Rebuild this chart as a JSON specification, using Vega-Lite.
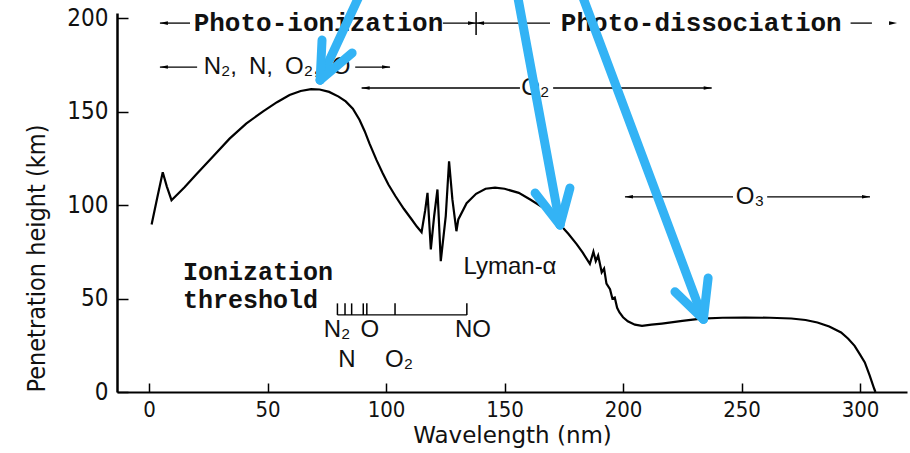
{
  "$schema": "https://vega.github.io/schema/vega-lite/v6.json",
  "width": 790,
  "height": 379,
  "autosize": "none",
  "padding": {"left": 117, "top": 13, "right": 3, "bottom": 61},
  "background": "white",
  "config": {
    "view": {"stroke": null},
    "axis": {"grid": false, "domainColor": "#000", "tickColor": "#000", "labelColor": "#111", "titleColor": "#111",
      "labelFont": "Liberation Sans Narrow, DejaVu Sans Condensed, sans-serif", "labelFontSize": 24,
      "titleFont": "DejaVu Sans, Liberation Sans, sans-serif", "titleFontWeight": "normal", "tickWidth": 1.5},
    "axisX": {"domainWidth": 2, "tickSize": -9, "labelPadding": 16, "labelFontSize": 22, "titleFontSize": 23, "titlePadding": 4, "tickCount": 7},
    "axisY": {"domainWidth": 2.5, "tickSize": -11, "labelPadding": 20, "titleFont": "DejaVu Sans Condensed, Liberation Sans Narrow, sans-serif", "titleFontSize": 25, "titlePadding": 17, "titleAnchor": "start", "tickCount": 5}
  },
  "datasets": {
    "curve": [
      {"wl": 1.1, "h": 89.6}, {"wl": 3.5, "h": 104}, {"wl": 5.8, "h": 117.5}, {"wl": 7.5, "h": 110}, {"wl": 9.5, "h": 102.6},
      {"wl": 15, "h": 109.5}, {"wl": 20, "h": 116.5}, {"wl": 27, "h": 126}, {"wl": 34, "h": 135.5}, {"wl": 41, "h": 143.5},
      {"wl": 48, "h": 150}, {"wl": 54, "h": 155}, {"wl": 59.3, "h": 158.8}, {"wl": 64, "h": 161}, {"wl": 68.4, "h": 162},
      {"wl": 72, "h": 161.8}, {"wl": 76, "h": 160.5}, {"wl": 80, "h": 158}, {"wl": 83, "h": 155.4}, {"wl": 86, "h": 151.5},
      {"wl": 88.8, "h": 145.6}, {"wl": 91, "h": 139.5}, {"wl": 93, "h": 133}, {"wl": 96, "h": 124}, {"wl": 98.6, "h": 117},
      {"wl": 101, "h": 111}, {"wl": 104, "h": 104.7}, {"wl": 107.5, "h": 98}, {"wl": 111, "h": 92}, {"wl": 113, "h": 88.5},
      {"wl": 115, "h": 85.5}, {"wl": 116.5, "h": 97}, {"wl": 117.5, "h": 106.5}, {"wl": 118.9, "h": 76.3}, {"wl": 120.3, "h": 94},
      {"wl": 121.7, "h": 108.3}, {"wl": 123.1, "h": 70}, {"wl": 125.2, "h": 94}, {"wl": 126.6, "h": 123.4}, {"wl": 128, "h": 103},
      {"wl": 129.7, "h": 86}, {"wl": 130.5, "h": 92.3}, {"wl": 134, "h": 101}, {"wl": 138, "h": 106}, {"wl": 142, "h": 108.7},
      {"wl": 146, "h": 109.3}, {"wl": 150, "h": 108.7}, {"wl": 156, "h": 106.5}, {"wl": 161, "h": 102.8}, {"wl": 166.4, "h": 98.5},
      {"wl": 170, "h": 94}, {"wl": 173.4, "h": 89.6}, {"wl": 177, "h": 84.5}, {"wl": 180.5, "h": 79}, {"wl": 183, "h": 74.5},
      {"wl": 186, "h": 68.5}, {"wl": 187.5, "h": 75}, {"wl": 188.5, "h": 70}, {"wl": 189.5, "h": 73}, {"wl": 191, "h": 64},
      {"wl": 192, "h": 66}, {"wl": 193, "h": 58}, {"wl": 194.5, "h": 55}, {"wl": 195.5, "h": 50}, {"wl": 196.5, "h": 50.5},
      {"wl": 197.5, "h": 45}, {"wl": 198.5, "h": 42.5}, {"wl": 200, "h": 40}, {"wl": 202, "h": 37.8}, {"wl": 205, "h": 36},
      {"wl": 208, "h": 35.4}, {"wl": 212, "h": 36}, {"wl": 216.4, "h": 36.6}, {"wl": 225, "h": 38}, {"wl": 233, "h": 39.2},
      {"wl": 242, "h": 39.7}, {"wl": 251.5, "h": 39.8}, {"wl": 262, "h": 39.7}, {"wl": 271, "h": 39.3}, {"wl": 277, "h": 38.5},
      {"wl": 282, "h": 37.2}, {"wl": 287, "h": 35}, {"wl": 292, "h": 31.8}, {"wl": 295, "h": 28.5}, {"wl": 297.7, "h": 24.7},
      {"wl": 300, "h": 20}, {"wl": 302, "h": 15.8}, {"wl": 304, "h": 9}, {"wl": 306, "h": 1.6}, {"wl": 306.5, "h": 0}
    ],
    "segments": [
      {"x1": 4.6, "x2": 17.3, "y": 197.3},
      {"x1": 124, "x2": 169.2, "y": 197.3},
      {"x1": 296, "x2": 305, "y": 197.3},
      {"x1": 4.6, "x2": 20.3, "y": 173.8},
      {"x1": 87, "x2": 101.7, "y": 173.8},
      {"x1": 89.7, "x2": 156.5, "y": 162.6},
      {"x1": 170.5, "x2": 237.4, "y": 162.6},
      {"x1": 200.8, "x2": 246.4, "y": 104.4},
      {"x1": 260.8, "x2": 304.2, "y": 104.4},
      {"x1": 79.5, "x2": 134.1, "y": 41.2}
    ],
    "vsegments": [
      {"x": 138, "y1": 190.9, "y2": 203.2},
      {"x": 79.5, "y1": 41.2, "y2": 47.4},
      {"x": 82.7, "y1": 41.2, "y2": 47.4},
      {"x": 85.5, "y1": 41.2, "y2": 47.4},
      {"x": 90.4, "y1": 41.2, "y2": 47.4},
      {"x": 91.9, "y1": 41.2, "y2": 47.4},
      {"x": 103.8, "y1": 41.2, "y2": 47.4},
      {"x": 134.1, "y1": 41.2, "y2": 47.4}
    ],
    "heads": [
      {"x": 4.6, "y": 197.3, "dir": "left"},
      {"x": 138, "y": 197.3, "dir": "right"},
      {"x": 138, "y": 197.3, "dir": "left"},
      {"x": 315.6, "y": 197.3, "dir": "right"},
      {"x": 4.6, "y": 173.8, "dir": "left"},
      {"x": 101.7, "y": 173.8, "dir": "right"},
      {"x": 89.7, "y": 162.6, "dir": "left"},
      {"x": 237.4, "y": 162.6, "dir": "right"},
      {"x": 200.8, "y": 104.4, "dir": "left"},
      {"x": 304.2, "y": 104.4, "dir": "right"}
    ],
    "titleLabels": [
      {"x": 71.5, "y": 197.3, "text": "Photo-ionization"},
      {"x": 233, "y": 197.3, "text": "Photo-dissociation"}
    ],
    "thresholdLabels": [
      {"x": 14.3, "y": 64.4, "text": "Ionization"},
      {"x": 14.3, "y": 49.2, "text": "threshold"}
    ],
    "sansLabels": [
      {"x": 54, "y": 173.8, "text": "N₂,\u2002N,\u2002O₂,\u2002O"},
      {"x": 163, "y": 162.6, "text": "O₂"},
      {"x": 253.6, "y": 104.4, "text": "O₃"},
      {"x": 79.3, "y": 33, "text": "N₂"},
      {"x": 93.2, "y": 33, "text": "O"},
      {"x": 136.7, "y": 33, "text": "NO"},
      {"x": 83.5, "y": 17, "text": "N"},
      {"x": 105.5, "y": 17, "text": "O₂"},
      {"x": 152.3, "y": 66.8, "text": "Lyman-α"}
    ],
    "blue": [
      {"x1": 89.5, "y1": 214, "x2": 72.2, "y2": 166.8},
      {"x1": 73, "y1": 188.2, "x2": 72.2, "y2": 166.8},
      {"x1": 85.7, "y1": 181.3, "x2": 72.2, "y2": 166.8},
      {"x1": 155.2, "y1": 214, "x2": 173.4, "y2": 89.3},
      {"x1": 162.9, "y1": 106.4, "x2": 173.4, "y2": 89.3},
      {"x1": 177.6, "y1": 109.1, "x2": 173.4, "y2": 89.3},
      {"x1": 182.2, "y1": 214, "x2": 233.9, "y2": 38.9},
      {"x1": 221.9, "y1": 53.6, "x2": 233.9, "y2": 38.9},
      {"x1": 235.9, "y1": 61, "x2": 233.9, "y2": 38.9}
    ]
  },
  "layer": [
    {
      "data": {"name": "curve"},
      "mark": {"type": "line", "color": "#000", "strokeWidth": 2.2, "strokeJoin": "miter"},
      "encoding": {
        "x": {"field": "wl", "type": "quantitative", "title": "Wavelength (nm)",
          "scale": {"domain": [-13.5, 319.8], "nice": false, "zero": false},
          "axis": {"values": [0, 50, 100, 150, 200, 250, 300]}},
        "y": {"field": "h", "type": "quantitative", "title": "Penetration height (km)",
          "scale": {"domain": [0, 202.7], "nice": false},
          "axis": {"values": [0, 50, 100, 150, 200]}}
      }
    },
    {
      "data": {"name": "segments"},
      "mark": {"type": "rule", "color": "#000", "strokeWidth": 1.3},
      "encoding": {
        "x": {"field": "x1", "type": "quantitative", "title": "Wavelength (nm)"},
        "x2": {"field": "x2"},
        "y": {"field": "y", "type": "quantitative", "title": "Penetration height (km)"}
      }
    },
    {
      "data": {"name": "vsegments"},
      "mark": {"type": "rule", "color": "#000", "strokeWidth": 1.5},
      "encoding": {
        "x": {"field": "x", "type": "quantitative", "title": "Wavelength (nm)"},
        "y": {"field": "y1", "type": "quantitative", "title": "Penetration height (km)"},
        "y2": {"field": "y2"}
      }
    },
    {
      "data": {"name": "heads"},
      "transform": [{"filter": "datum.dir === 'left'"}],
      "mark": {"type": "point", "shape": "M 0 0 L 2 -0.45 L 2 0.45 Z", "filled": true, "color": "#000", "size": 64, "opacity": 1},
      "encoding": {
        "x": {"field": "x", "type": "quantitative", "title": "Wavelength (nm)"},
        "y": {"field": "y", "type": "quantitative", "title": "Penetration height (km)"}
      }
    },
    {
      "data": {"name": "heads"},
      "transform": [{"filter": "datum.dir === 'right'"}],
      "mark": {"type": "point", "shape": "M 0 0 L -2 -0.45 L -2 0.45 Z", "filled": true, "color": "#000", "size": 64, "opacity": 1},
      "encoding": {
        "x": {"field": "x", "type": "quantitative", "title": "Wavelength (nm)"},
        "y": {"field": "y", "type": "quantitative", "title": "Penetration height (km)"}
      }
    },
    {
      "data": {"name": "titleLabels"},
      "mark": {"type": "text", "font": "Liberation Mono", "fontWeight": "bold", "fontSize": 26, "baseline": "middle", "align": "center", "color": "#111"},
      "encoding": {
        "x": {"field": "x", "type": "quantitative", "title": "Wavelength (nm)"},
        "y": {"field": "y", "type": "quantitative", "title": "Penetration height (km)"},
        "text": {"field": "text"}
      }
    },
    {
      "data": {"name": "thresholdLabels"},
      "mark": {"type": "text", "font": "Liberation Mono", "fontWeight": "bold", "fontSize": 25, "baseline": "middle", "align": "left", "color": "#111"},
      "encoding": {
        "x": {"field": "x", "type": "quantitative", "title": "Wavelength (nm)"},
        "y": {"field": "y", "type": "quantitative", "title": "Penetration height (km)"},
        "text": {"field": "text"}
      }
    },
    {
      "data": {"name": "sansLabels"},
      "mark": {"type": "text", "font": "Liberation Sans", "fontSize": 24, "baseline": "middle", "align": "center", "color": "#111"},
      "encoding": {
        "x": {"field": "x", "type": "quantitative", "title": "Wavelength (nm)"},
        "y": {"field": "y", "type": "quantitative", "title": "Penetration height (km)"},
        "text": {"field": "text"}
      }
    },
    {
      "data": {"name": "blue"},
      "mark": {"type": "rule", "color": "#33B3F5", "strokeWidth": 9, "strokeCap": "round"},
      "encoding": {
        "x": {"field": "x1", "type": "quantitative", "title": "Wavelength (nm)"},
        "x2": {"field": "x2"},
        "y": {"field": "y1", "type": "quantitative", "title": "Penetration height (km)"},
        "y2": {"field": "y2"}
      }
    }
  ]
}
